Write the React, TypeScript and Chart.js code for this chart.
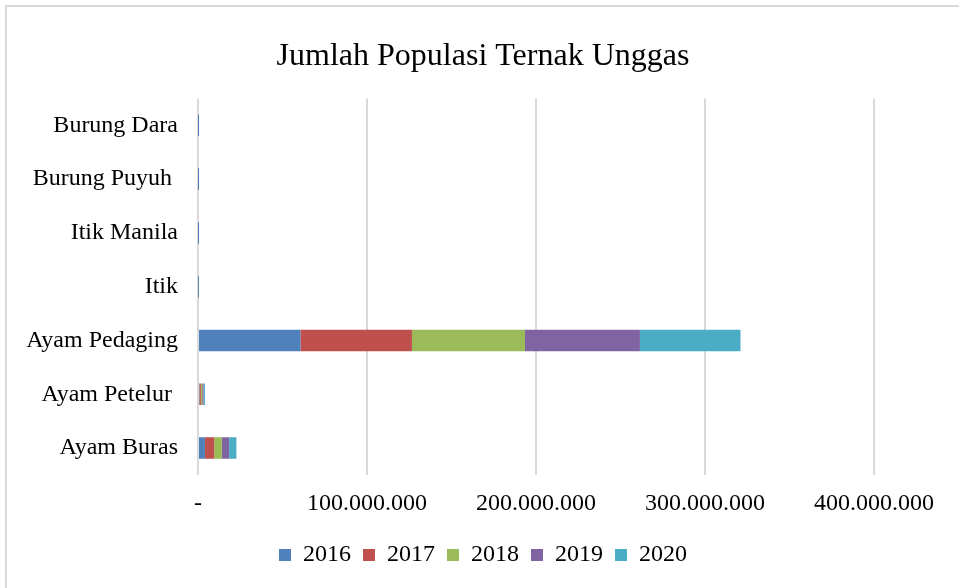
import React, { useEffect, useRef } from "react";
import { Chart, registerables } from "chart.js";

Chart.register(...registerables);

const categories = [
  "Burung Dara",
  "Burung Puyuh ",
  "Itik Manila",
  "Itik",
  "Ayam Pedaging",
  "Ayam Petelur ",
  "Ayam Buras",
];

const years = ["2016", "2017", "2018", "2019", "2020"];
const colors = ["#4F81BD", "#C0504D", "#9BBB59", "#8064A2", "#4BACC6"];

// values per category for each year (same order as categories)
const values2016 = [3000, 6000, 12000, 110000, 60600000, 800000, 4100000];
const values2017 = [3000, 6000, 12000, 110000, 66000000, 900000, 5500000];
const values2018 = [3000, 6000, 12000, 110000, 66900000, 800000, 4500000];
const values2019 = [3000, 6000, 12000, 110000, 68000000, 800000, 4300000];
const values2020 = [3000, 6000, 12000, 110000, 59500000, 800000, 4300000];

const seriesValues = [values2016, values2017, values2018, values2019, values2020];

const xTicks = [0, 100000000, 200000000, 300000000, 400000000];

const FONT = "'Liberation Serif', 'Times New Roman', serif";

function fmt(v: number): string {
  if (v === 0) return "-";
  return Math.round(v).toString().replace(/\B(?=(\d{3})+(?!\d))/g, ".");
}

export default function App() {
  const ref = useRef<HTMLCanvasElement | null>(null);

  useEffect(() => {
    if (!ref.current) return;
    const chart = new Chart(ref.current, {
      type: "bar",
      data: {
        labels: categories,
        datasets: years.map((y, i) => ({
          label: y,
          data: seriesValues[i],
          backgroundColor: colors[i],
          borderWidth: 0,
          barPercentage: 0.8,
          categoryPercentage: 0.5,
        })),
      },
      options: {
        indexAxis: "y",
        animation: false,
        responsive: false,
        maintainAspectRatio: false,
        layout: { padding: { left: 0, right: 0, top: 0, bottom: 11 } },
        plugins: {
          title: {
            display: true,
            text: "Jumlah Populasi Ternak Unggas",
            color: "#000",
            font: { family: FONT, size: 32, weight: "normal" },
            padding: { top: 30, bottom: 23 },
          },
          legend: {
            position: "bottom",
            labels: {
              color: "#000",
              font: { family: FONT, size: 24 },
              boxWidth: 12,
              boxHeight: 12,
              padding: 12,
            },
          },
          tooltip: { enabled: false },
        },
        scales: {
          x: {
            stacked: true,
            min: xTicks[0],
            max: xTicks[xTicks.length - 1],
            afterBuildTicks: (scale: any) => {
              scale.ticks = xTicks.map((v) => ({ value: v }));
            },
            afterFit: (scale: any) => {
              scale.height = 56;
            },
            grid: { color: "#d9d9d9", lineWidth: 2, drawTicks: false },
            border: { display: false },
            ticks: {
              color: "#000",
              font: { family: FONT, size: 24 },
              padding: 14,
              maxRotation: 0,
              callback: (v: any) => fmt(Number(v)),
            },
          },
          y: {
            stacked: true,
            afterFit: (scale: any) => {
              scale.width = 191;
            },
            grid: { display: false, drawTicks: false },
            border: { display: false },
            ticks: {
              color: "#000",
              font: { family: FONT, size: 24 },
              padding: 20,
            },
          },
          yRight: {
            type: "linear",
            position: "right",
            afterFit: (scale: any) => {
              scale.width = 85;
            },
            grid: { display: false, drawTicks: false },
            border: { display: false },
            ticks: { display: false },
          },
        },
      },
    });
    return () => chart.destroy();
  }, []);

  return (
    <div
      style={{
        position: "fixed",
        left: 5,
        top: 5,
        width: 970,
        height: 600,
        border: "2px solid #d9d9d9",
        background: "#fff",
      }}
    >
      <canvas ref={ref} width={952} height={581} style={{ display: "block" }} />
    </div>
  );
}
